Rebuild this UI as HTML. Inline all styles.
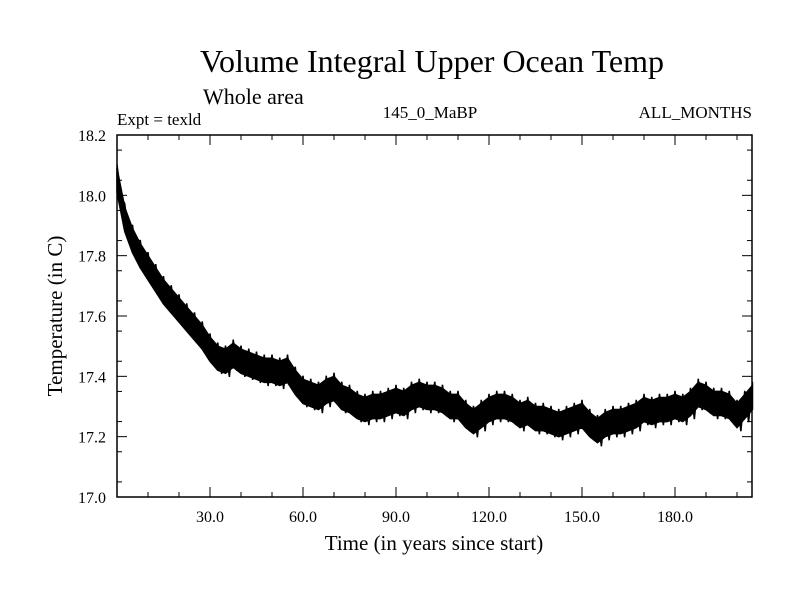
<!DOCTYPE html>
<html><head><meta charset="utf-8"><style>
body{margin:0;background:#fff}
svg text{font-family:"Liberation Serif",serif;fill:#000}
</style></head><body>
<svg width="800" height="600" viewBox="0 0 800 600">
<text x="432" y="72" font-size="32" text-anchor="middle">Volume Integral Upper Ocean Temp</text>
<text x="203" y="104" font-size="22">Whole area</text>
<text x="117" y="125" font-size="17">Expt = texld</text>
<text x="430" y="118" font-size="17" text-anchor="middle">145_0_MaBP</text>
<text x="752" y="118" font-size="17" text-anchor="end">ALL_MONTHS</text>
<text x="434" y="550" font-size="21" text-anchor="middle">Time (in years since start)</text>
<text transform="translate(62,316) rotate(-90)" font-size="21" text-anchor="middle">Temperature (in C)</text>
<g id="axes"></g>
<g id="series"></g>
<rect x="117" y="135" width="635" height="362" fill="none" stroke="#000" stroke-width="1.5"/>
</svg>
<script>
const years = [];
for (let i = 0; i < 83; i++) years.push(i * 2.5);
const temps = [18.05,17.92,17.85,17.8,17.76,17.72,17.68,17.65,17.62,17.59,17.56,17.53,17.49,17.46,17.45,17.47,17.45,17.44,17.43,17.42,17.42,17.41,17.42,17.38,17.35,17.34,17.33,17.35,17.36,17.33,17.32,17.3,17.29,17.3,17.3,17.31,17.32,17.31,17.33,17.34,17.33,17.33,17.32,17.3,17.3,17.27,17.25,17.27,17.29,17.3,17.3,17.29,17.27,17.28,17.26,17.26,17.25,17.24,17.25,17.26,17.27,17.24,17.22,17.24,17.25,17.25,17.26,17.27,17.29,17.28,17.29,17.29,17.3,17.29,17.31,17.34,17.33,17.31,17.31,17.3,17.27,17.3,17.33];
const seasonalAmp = 0.04;
const yTicks = [17.0,17.2,17.4,17.6,17.8,18.0,18.2];
const yTickLabels = ["17.0","17.2","17.4","17.6","17.8","18.0","18.2"];
const xTicks = [30,60,90,120,150,180];
const xTickLabels = ["30.0","60.0","90.0","120.0","150.0","180.0"];

const X0=117,X1=752,Y0=497,Y1=135, XMAX=(752-117)/3.1;
const xs = v => X0 + v/XMAX*(X1-X0);
const ys = v => Y0 - (v-17.0)/1.2*(Y0-Y1);
const NS="http://www.w3.org/2000/svg";
const ax=document.getElementById('axes'), se=document.getElementById('series');
function mk(tag,attrs,parent){const e=document.createElementNS(NS,tag);for(const k in attrs)e.setAttribute(k,attrs[k]);parent.appendChild(e);return e;}
yTicks.forEach((v,i)=>{
  const y=ys(v);
  const l=mk('line',{x1:X0,x2:X0+10,y1:y,y2:y,stroke:'#000'},ax);
  
  
  mk('line',{x1:X1-10,x2:X1,y1:y,y2:y,stroke:'#000'},ax);
  const t=mk('text',{x:106,y:y+6,'font-size':16,'text-anchor':'end'},ax);
  t.textContent=yTickLabels[i];
  
  
});
for(let v=17.05;v<18.2;v+=0.1){const y=ys(v);mk('line',{x1:X0,x2:X0+5,y1:y,y2:y,stroke:'#000'},ax);mk('line',{x1:X1-5,x2:X1,y1:y,y2:y,stroke:'#000'},ax);}
for(let v=10;v<XMAX;v+=10){const x=xs(v);const L=(v%30===0)?10:5;mk('line',{x1:x,x2:x,y1:Y0,y2:Y0-L,stroke:'#000'},ax);mk('line',{x1:x,x2:x,y1:Y1,y2:Y1+L,stroke:'#000'},ax);}
xTicks.forEach((v,i)=>{
  const t=mk('text',{x:xs(v),y:522,'font-size':16,'text-anchor':'middle'},ax);
  t.textContent=xTickLabels[i];
  
  
});
// seasonal band envelope
let up=[],dn=[];
years.forEach((yr,i)=>{up.push(xs(yr)+','+ys(temps[i]+seasonalAmp));dn.unshift(xs(yr)+','+ys(temps[i]-seasonalAmp));});
const band=mk('polygon',{points:up.concat(dn).join(' '),fill:'#000',stroke:'#000','stroke-width':1.5},se);


// zigzag edges for texture
let pts=[];
years.forEach((yr,i)=>{
  const dx=(X1-X0)/XMAX*1.25;
  pts.push(xs(yr)+','+ys(temps[i]+seasonalAmp*1.3));
  if(i<years.length-1) pts.push((xs(yr)+dx)+','+ys(temps[i]-seasonalAmp*1.3));
});
const line=mk('polyline',{points:pts.join(' '),fill:'none',stroke:'#000','stroke-width':1.5},se);


</script>
</body></html>
